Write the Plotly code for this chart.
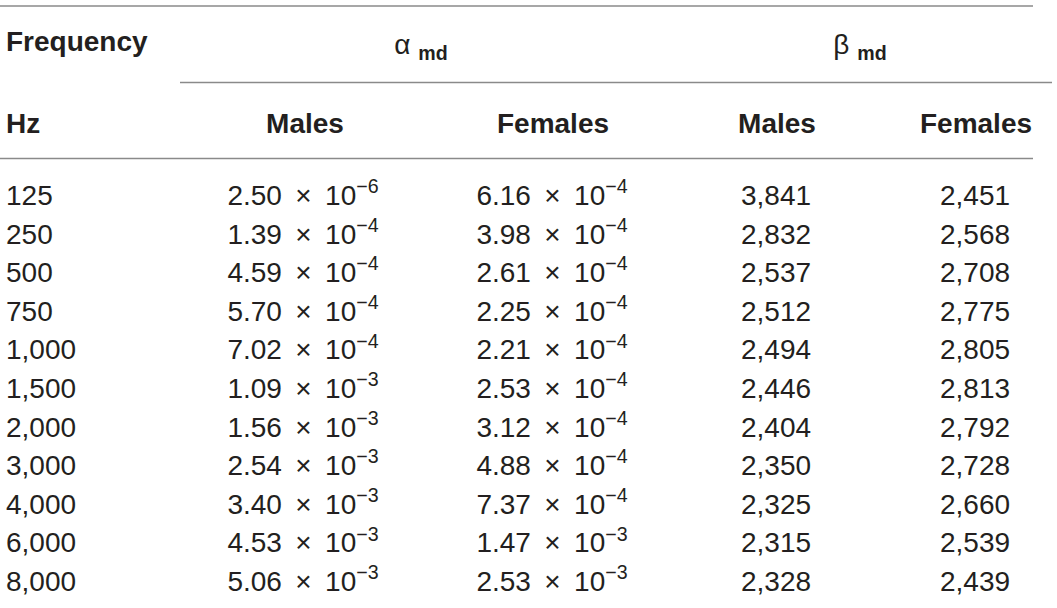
import plotly.graph_objects as go

# ---- data ----
freq_hz = ["125", "250", "500", "750", "1,000", "1,500", "2,000", "3,000", "4,000", "6,000", "8,000"]
alpha_m_mant = [2.50, 1.39, 4.59, 5.70, 7.02, 1.09, 1.56, 2.54, 3.40, 4.53, 5.06]
alpha_m_exp = [-6, -4, -4, -4, -4, -3, -3, -3, -3, -3, -3]
alpha_f_mant = [6.16, 3.98, 2.61, 2.25, 2.21, 2.53, 3.12, 4.88, 7.37, 1.47, 2.53]
alpha_f_exp = [-4, -4, -4, -4, -4, -4, -4, -4, -4, -3, -3]
beta_m = [3841, 2832, 2537, 2512, 2494, 2446, 2404, 2350, 2325, 2315, 2328]
beta_f = [2451, 2568, 2708, 2775, 2805, 2813, 2792, 2728, 2660, 2539, 2439]

group_headers = ["α <sub><b>md</b></sub>", "β <sub><b>md</b></sub>"]
sub_headers = ["Males", "Females", "Males", "Females"]
row_headers = ["Frequency", "Hz"]

# ---- layout constants ----
W, H = 1057, 608
FONT = "Liberation Sans, Arial, Helvetica, sans-serif"
COLOR = "#231f20"
LINE = "#8a8a8a"
FS = 28
col_x = [6, 303, 552, 776, 975]
row_y0, row_dy = 198, 38.6
GAP = "\u00a0\u2009"


def sci(m, e):
    return f"{m:.2f}{GAP}×{GAP}10<sup>−{abs(e)}</sup>"


def thousands(v):
    return f"{v:,}"


rows_y = [row_y0 + i * row_dy for i in range(len(freq_hz))]
tf = dict(family=FONT, size=FS, color=COLOR)

fig = go.Figure()

# Frequency column (left aligned)
fig.add_trace(go.Scatter(
    x=[col_x[0]] * len(freq_hz), y=rows_y, mode="text", text=freq_hz,
    textposition="middle right", textfont=tf, hoverinfo="skip"))

cols = [
    [sci(m, e) for m, e in zip(alpha_m_mant, alpha_m_exp)],
    [sci(m, e) for m, e in zip(alpha_f_mant, alpha_f_exp)],
    [thousands(v) for v in beta_m],
    [thousands(v) for v in beta_f],
]
for cx, texts in zip(col_x[1:], cols):
    fig.add_trace(go.Scatter(
        x=[cx] * len(texts), y=rows_y, mode="text", text=texts,
        textposition="middle center", textfont=tf, hoverinfo="skip"))

# headers
fig.add_trace(go.Scatter(
    x=[col_x[0], col_x[0]], y=[44, 126], mode="text",
    text=[f"<b>{s}</b>" for s in row_headers], textposition="middle right",
    textfont=tf, hoverinfo="skip"))
fig.add_trace(go.Scatter(
    x=[305, 553, 777, 976], y=[126] * 4, mode="text",
    text=[f"<b>{s}</b>" for s in sub_headers], textposition="middle center",
    textfont=tf, hoverinfo="skip"))
fig.add_trace(go.Scatter(
    x=[421, 860], y=[47, 47], mode="text",
    text=group_headers, textposition="middle center",
    textfont=tf, hoverinfo="skip"))

# rules
for x0, x1, y in [(0, 1033, 6), (180, 1052, 82.5), (0, 1033, 158.5)]:
    fig.add_shape(type="line", x0=x0, x1=x1, y0=y, y1=y, xref="x", yref="y",
                  line=dict(color=LINE, width=1.6))

fig.update_layout(
    width=W, height=H, margin=dict(l=0, r=0, t=0, b=0),
    paper_bgcolor="white", plot_bgcolor="white", showlegend=False,
    xaxis=dict(range=[0, W], visible=False, fixedrange=True),
    yaxis=dict(range=[H, 0], visible=False, fixedrange=True),
)

fig.write_html(
    "out.html",
    config={"displayModeBar": False, "staticPlot": True},
    post_script="document.body.style.margin='0';document.body.style.overflow='hidden';",
)
